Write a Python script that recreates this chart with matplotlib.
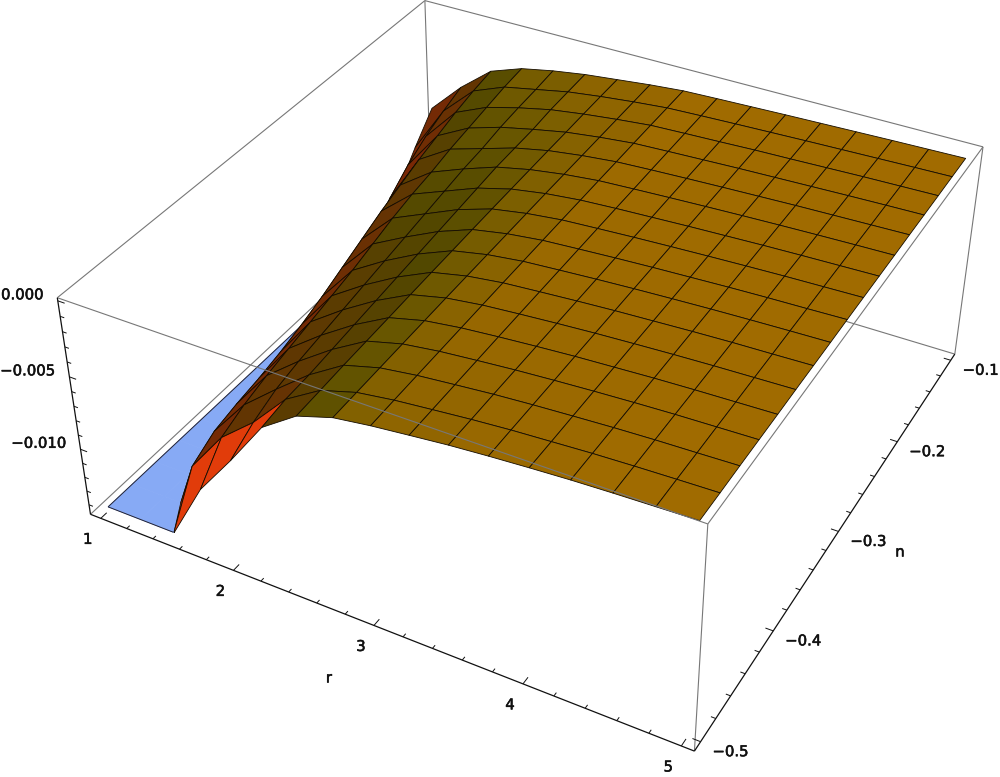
import numpy as np
import matplotlib
matplotlib.use("Agg")
import matplotlib.pyplot as plt
import matplotlib.patheffects as pe
from matplotlib.colors import LinearSegmentedColormap
from mpl_toolkits.mplot3d.art3d import Poly3DCollection, Line3DCollection

# mesh lines of the surface
r_mesh = [1, 1.25, 1.5, 1.75, 2, 2.25, 2.5, 2.75, 3, 3.25, 3.5, 3.75, 4, 4.25, 4.5, 4.75, 5]
n_mesh = [-0.1, -0.125, -0.15, -0.175, -0.2, -0.225, -0.25, -0.275, -0.3, -0.325, -0.35,
          -0.375, -0.4, -0.425, -0.45, -0.475, -0.5]

# depth of the surface below zero (in 1e-3), one list per r mesh line, read along n_mesh
depth_r = [
    [7.2, 9.0, 11.0, 13.5, 16.5, 19.0, 22.0, 25.0, 29, 35, 41, 49, 59, 70, 83, 99, 118],
    [5.0, 5.6, 6.3, 7.2, 8.4, 9.8, 11.2, 12.4, 13.2, 13.7, 14.0, 14.3, 14.5, 15.0, 15.8, 17.5, 23.6],
    [3.2, 3.5, 3.9, 4.4, 4.9, 5.5, 6.1, 6.8, 7.5, 8.2, 8.8, 9.3, 9.7, 10.0, 10.4, 11.3, 14.5],
    [2.4, 2.6, 2.9, 3.2, 3.5, 3.9, 4.2, 4.6, 5.1, 5.6, 6.0, 6.4, 6.8, 7.2, 7.7, 8.4, 10.4],
    [1.95, 2.15, 2.3, 2.5, 2.8, 3.0, 3.3, 3.6, 3.9, 4.2, 4.5, 4.8, 5.1, 5.4, 5.8, 6.5, 7.5],
    [1.6, 1.7, 1.8, 2.0, 2.1, 2.2, 2.4, 2.6, 2.8, 3.0, 3.2, 3.4, 3.6, 3.8, 4.0, 4.1, 4.4],
    [1.35, 1.4, 1.47, 1.55, 1.62, 1.7, 1.78, 1.86, 1.95, 2.05, 2.14, 2.24, 2.35, 2.45, 2.55, 2.68, 2.80],
    [1.1, 1.15, 1.2, 1.25, 1.3, 1.35, 1.4, 1.46, 1.52, 1.58, 1.64, 1.7, 1.77, 1.84, 1.91, 1.98, 2.05],
    [.90, .94, .97, 1.01, 1.06, 1.10, 1.15, 1.19, 1.24, 1.29, 1.34, 1.40, 1.46, 1.52, 1.58, 1.64, 1.71],
    [.82, .85, .88, .91, .94, .98, 1.01, 1.05, 1.09, 1.13, 1.17, 1.21, 1.25, 1.30, 1.35, 1.40, 1.45],
    [.75, .77, .80, .82, .84, .87, .90, .92, .95, .98, 1.01, 1.04, 1.07, 1.10, 1.13, 1.17, 1.20],
    [.68, .70, .71, .73, .75, .77, .79, .81, .83, .85, .87, .89, .91, .94, .96, .98, 1.01],
    [.62, .63, .65, .66, .67, .68, .70, .71, .73, .74, .76, .77, .79, .80, .82, .84, .85],
    [.56, .57, .58, .59, .59, .60, .61, .62, .63, .64, .65, .66, .67, .68, .69, .70, .71],
    [.50, .51, .51, .52, .53, .53, .54, .54, .55, .56, .56, .57, .58, .58, .59, .60, .61],
    [.45, .45, .46, .46, .47, .47, .48, .48, .49, .49, .50, .50, .51, .51, .52, .52, .53],
    [.40, .40, .41, .41, .41, .42, .42, .42, .42, .43, .43, .43, .44, .44, .44, .45, .45],
]

z_clip = -0.0144  # the plot range cuts the surface here

# tick labels
r_labels = [1, 2, 3, 4, 5]
n_labels = [-0.5, -0.4, -0.3, -0.2, -0.1]
z_labels = [0.0, -0.005, -0.010]

# plot box with the 2% padding
r0, r1 = 0.92, 5.08
n0, n1 = -0.508, -0.092
z0, z1 = -0.0147, 0.0002

# where the box corners sit in the image, to calibrate the camera
box_corners = [(0, 0, 1), (0, 1, 1), (1, 1, 1), (1, 0, 1), (0, 0, 0), (1, 0, 0), (1, 1, 0), (0, 1, 0)]
box_pixels = [(57, 297), (425, 1), (983, 147), (708, 524), (91, 515), (694, 751), (955, 354), (431, 196)]


def camera_matrix():
    rows = []
    for (x, y, z), (u, v) in zip(box_corners, box_pixels):
        rows.append([x, y, z, 1, 0, 0, 0, 0, -u * x, -u * y, -u * z, -u])
        rows.append([0, 0, 0, 0, x, y, z, 1, -v * x, -v * y, -v * z, -v])
    p = np.linalg.svd(np.array(rows, dtype=float))[2][-1].reshape(3, 4)
    if p[2] @ [0.5, 0.5, 0.5, 1] < 0:
        p = -p
    # scale data into the unit box first
    unit = np.array([[1 / (r1 - r0), 0, 0, -r0 / (r1 - r0)],
                     [0, 1 / (n1 - n0), 0, -n0 / (n1 - n0)],
                     [0, 0, 1 / (z1 - z0), -z0 / (z1 - z0)],
                     [0, 0, 0, 1]])
    k = 0.5 * p[2] @ [0.5, 0.5, 0.5, 1]
    m = np.vstack([p[0], p[1], p[2] - [0, 0, 0, k], p[2]])
    return m @ unit


cam = camera_matrix()


def to_pixels(x, y, z):
    v = cam @ [x, y, z, 1]
    return v[0] / v[3], v[1] / v[3]


def split_at_clip(verts):
    # cut one mesh cell at z_clip, returns the part above and the part below
    above, below = [], []
    for a, b in zip(verts, verts[1:] + verts[:1]):
        (above if a[2] >= z_clip else below).append(a)
        if (a[2] - z_clip) * (b[2] - z_clip) < 0:
            t = (z_clip - a[2]) / (b[2] - a[2])
            cut = (a[0] + t * (b[0] - a[0]), a[1] + t * (b[1] - a[1]), z_clip)
            above.append(cut)
            below.append(cut)
    return above, below


def add_lines(segments, color, lw, zorder):
    lines = Line3DCollection(segments, colors=color, linewidths=lw, zorder=zorder)
    ax.add_collection3d(lines, autolim=False)


# Axes3D is always square, so make it 1000x1000 px around the 777 px figure
fig = plt.figure(figsize=(10, 7.77), dpi=100)
ax = fig.add_axes([0, (1 - 1000 / 777) / 2, 1, 1000 / 777], projection="3d", computed_zorder=False)
ax.set_axis_off()
ax.get_proj = lambda: cam
ax.viewLim.intervalx = (0, 1000)
ax.viewLim.intervaly = (888.5, -111.5)

# surface colour follows the steepness along r, red on the front row facing the viewer
steep_cmap = LinearSegmentedColormap.from_list("steep", [
    (0.0, (162 / 255, 108 / 255, 0)),
    (0.3 / 15, (160 / 255, 107 / 255, 0)),
    (0.8 / 15, (150 / 255, 103 / 255, 0)),
    (1.5 / 15, (125 / 255, 95 / 255, 0)),
    (2.5 / 15, (100 / 255, 84 / 255, 0)),
    (4 / 15, (82 / 255, 72 / 255, 0)),
    (7 / 15, (95 / 255, 55 / 255, 2 / 255)),
    (12 / 15, (120 / 255, 40 / 255, 5 / 255)),
    (1.0, (125 / 255, 40 / 255, 5 / 255)),
])
red_face = (225 / 255, 60 / 255, 10 / 255)
blue_cap = (135 / 255, 170 / 255, 245 / 255)

depth = np.array(depth_r)
z_surf = -depth / 1000

cap_verts = []
surf_verts = []
surf_colors = []
for i in range(len(r_mesh) - 1):
    for j in range(len(n_mesh) - 1):
        cell = [(i, j), (i + 1, j), (i + 1, j + 1), (i, j + 1)]
        above, below = split_at_clip([(r_mesh[a], n_mesh[b], z_surf[a, b]) for a, b in cell])
        if len(below) > 2:
            cap_verts.append(below)
        if len(above) < 3:
            continue
        slope = (depth[i, j] + depth[i, j + 1] - depth[i + 1, j] - depth[i + 1, j + 1]) / 2 / 0.25
        surf_verts.append(above)
        if j == len(n_mesh) - 2 and slope > 7:
            surf_colors.append(red_face)
        else:
            surf_colors.append(steep_cmap(min(slope, 15) / 15))

# the cut face is flat at z_clip
cap_flat = [[(x, y, z_clip) for x, y, z in poly] for poly in cap_verts]
cap = Poly3DCollection(cap_flat, facecolors=[blue_cap], edgecolors=[blue_cap], linewidths=0.5, zorder=1.5)
ax.add_collection3d(cap, autolim=False)
surf = Poly3DCollection(surf_verts, facecolors=surf_colors, edgecolors="#140c00", linewidths=0.6, zorder=2)
ax.add_collection3d(surf, autolim=False)

# outline of the cap
add_lines([[(1, -0.5, z_clip), (1, -0.2, z_clip)], [(1, -0.5, z_clip), (1.5, -0.5, z_clip)]], "#222233", 0.7, 1.6)

# box edges, back ones under the surface and front ones over it
gray = "#777777"
add_lines([[(r0, n0, z1), (r0, n1, z1)], [(r0, n1, z1), (r1, n1, z1)], [(r0, n1, z1), (r0, n1, z0)],
           [(r0, n1, z0), (r0, n0, z0)], [(r0, n1, z0), (r1, n1, z0)]], gray, 0.8, 1)
add_lines([[(r0, n0, z1), (r1, n0, z1)], [(r1, n0, z1), (r1, n1, z1)], [(r1, n0, z1), (r1, n0, z0)],
           [(r1, n1, z1), (r1, n1, z0)]], gray, 0.8, 3)
# the three axes
add_lines([[(r0, n0, z1), (r0, n0, z0)], [(r0, n0, z0), (r1, n0, z0)], [(r1, n0, z0), (r1, n1, z0)]],
          "#111111", 0.9, 3)

# ticks, all pointing into the box
ticks = []
for t in np.arange(1, 5.01, 0.2):
    major = abs(t - round(t)) < 1e-6
    ticks.append([(t, n0, z0), (t, n0 + (0.006 if major else 0.003), z0)])
for t in np.arange(-0.5, -0.099, 0.02):
    major = abs(t * 10 - round(t * 10)) < 1e-6
    ticks.append([(r1, t, z0), (r1 - (0.05 if major else 0.03), t, z0)])
for t in np.arange(-0.014, 0.0001, 0.001):
    major = abs(t * 200 - round(t * 200)) < 1e-6
    ticks.append([(r0, n0, t), (r0 + (0.05 if major else 0.03), n0, t)])
add_lines(ticks, "#111111", 0.7, 3)

bolder = [pe.withStroke(linewidth=0.4, foreground="#111111")]
label_style = dict(fontsize=10.7, color="#111111", family="DejaVu Sans", annotation_clip=False,
                   textcoords="offset pixels", path_effects=bolder)
for t in r_labels:
    ax.annotate(str(t), xy=to_pixels(t, n0, z0), xytext=(-13, -21), ha="center", va="center", **label_style)
for t in n_labels:
    ax.annotate(f"{t:.1f}".replace("-", "\u2212"), xy=to_pixels(r1, t, z0), xytext=(30, -10),
                ha="center", va="center", **label_style)
for t in z_labels:
    ax.annotate(f"{t:.3f}".replace("-", "\u2212"), xy=to_pixels(r0, n0, t), xytext=(-14, 6),
                ha="right", va="center", **label_style)
ax.annotate("r", xy=(329, 678), ha="center", va="center", fontsize=10.7, color="#111111",
            annotation_clip=False, path_effects=bolder)
ax.annotate("n", xy=(900, 552), ha="center", va="center", fontsize=10.7, color="#111111",
            annotation_clip=False, path_effects=bolder)

fig.savefig("out.png", dpi=100)
